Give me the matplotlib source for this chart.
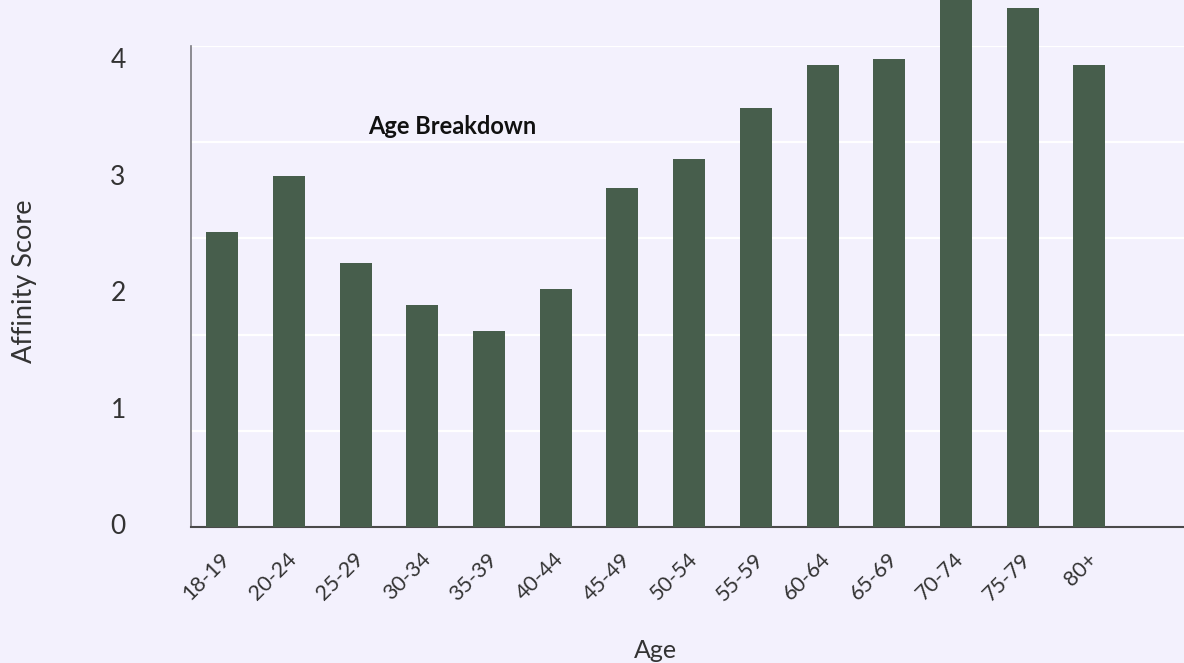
import matplotlib
matplotlib.use("Agg")
import matplotlib.pyplot as plt
import matplotlib.transforms as mtransforms

categories = ["18-19", "20-24", "25-29", "30-34", "35-39", "40-44", "45-49",
              "50-54", "55-59", "60-64", "65-69", "70-74", "75-79", "80+"]
scores = [2.53, 3.01, 2.27, 1.91, 1.68, 2.04, 2.91, 3.16, 3.60, 3.97, 4.02, 4.60, 4.46, 3.97]
y_ticks = [0, 1, 2, 3, 4]
y_tick_labels = ["0", "1", "2", "3", "4"]

BG = "#f3f1fd"
BAR = "#475e4c"
TXT = "#333333"
FONT = ["Lato", "DejaVu Sans"]

plt.rcParams["font.family"] = FONT

fig = plt.figure(figsize=(11.84, 6.63), dpi=100, facecolor=BG)
ax = fig.add_axes([191 / 1184, (663 - 527) / 663, 1 - 191 / 1184, (527 - 46) / 663])
ax.set_facecolor(BG)

x = list(range(len(categories)))
ax.bar(x, scores, width=0.48, color=BAR, clip_on=False, zorder=3)

ymax = 4.13
ax.set_ylim(0, ymax)
ax.set_xlim(-0.47, 14.42)

# horizontal gridlines
for k in range(1, 6):
    ax.axhline(ymax * k / 5, color="white", lw=1.6, zorder=1)

ax.set_yticks(y_ticks)
ax.set_yticklabels(y_tick_labels, fontsize=19, color=TXT)
ax.tick_params(axis="y", length=0, pad=47)
yoff = mtransforms.ScaledTranslation(0, 3 / 100, fig.dpi_scale_trans)
for lbl in ax.get_yticklabels():
    lbl.set_transform(lbl.get_transform() + yoff)

ax.set_xticks(x)
ax.set_xticklabels(categories, rotation=45, ha="right", va="top",
                   fontsize=15.5, color=TXT)
ax.tick_params(axis="x", length=0, pad=16)
offset = mtransforms.ScaledTranslation(12 / 100, 0, fig.dpi_scale_trans)
for lbl in ax.get_xticklabels():
    lbl.set_transform(lbl.get_transform() + offset)

for s in ["top", "right"]:
    ax.spines[s].set_visible(False)
ax.spines["left"].set_color("#7a7a80")
ax.spines["left"].set_linewidth(1.2)
ax.spines["bottom"].set_color("#4a4a4a")
ax.spines["bottom"].set_linewidth(1.5)

fig.text(368 / 1184, 1 - 126 / 663, "Age Breakdown", ha="left", va="center",
         fontsize=17, fontweight="bold", color="#111111")
fig.text(25 / 1184, 1 - 281 / 663, "Affinity Score", rotation=90, ha="center",
         va="center", fontsize=19.5, color=TXT)
fig.text(655 / 1184, 1 / 663, "Age", ha="center", va="bottom",
         fontsize=18, color=TXT)

fig.savefig("out.png", dpi=100, facecolor=BG)
